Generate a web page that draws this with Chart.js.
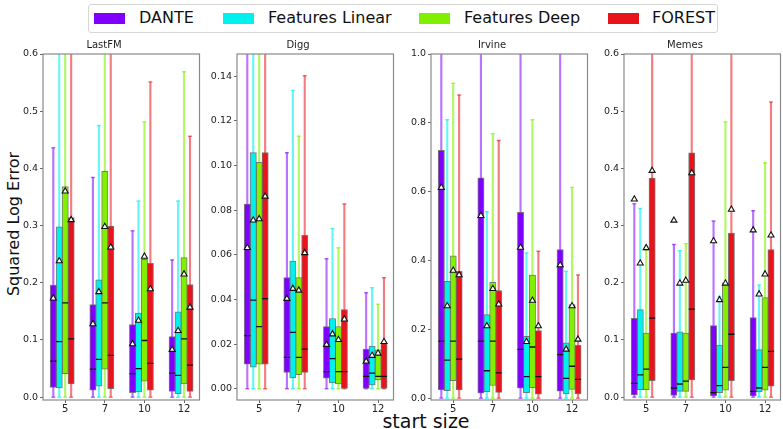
<!DOCTYPE html>
<html>
<head>
<meta charset="utf-8">
<script src="https://cdn.jsdelivr.net/npm/chart.js@4.4.0/dist/chart.umd.min.js"></script>
<style>
  body { margin: 0; width: 783px; height: 429px; overflow: hidden; background: #fff; position: relative;
         font-family: "DejaVu Sans", sans-serif; color: #111; }
  canvas { position: absolute; }
  .legend { position: absolute; left: 88px; top: 4px; width: 630px; height: 29px; box-sizing: border-box;
            border: 1px solid #d6d6d6; border-radius: 3px; }
  .legend .patch { position: absolute; top: 8px; width: 31px; height: 11px; }
  .legend .label { position: absolute; top: 4px; font-size: 16px; line-height: 18px; white-space: nowrap; }
  .ylabel { position: absolute; left: 13px; top: 224px; font-size: 16px; white-space: nowrap;
            transform: translate(-50%, -50%) rotate(-90deg); }
  .xlabel { position: absolute; left: 426px; top: 412px; font-size: 19px; line-height: 19px;
            transform: translateX(-50%); white-space: nowrap; }
</style>
</head>
<body>
<div class="legend" id="legend"></div>
<div class="ylabel">Squared Log Error</div>
<div class="xlabel">start size</div>
<canvas id="c0" width="202" height="386"></canvas>
<canvas id="c1" width="202" height="386"></canvas>
<canvas id="c2" width="202" height="386"></canvas>
<canvas id="c3" width="202" height="386"></canvas>
<script>
const startSizes = ['5', '7', '10', '12'];
const seriesNames = ['DANTE', 'Features Linear', 'Features Deep', 'FOREST'];
const panelTitles = ['LastFM', 'Digg', 'Irvine', 'Memes'];

// each array: [DANTE, Features Linear, Features Deep, FOREST] x start sizes
const lastfmQ1 = [[0.017, 0.012, 0.008, 0.010], [0.016, 0.019, 0.009, 0.006], [0.041, 0.049, 0.028, 0.023], [0.023, 0.015, 0.012, 0.010]];
const lastfmMedian = [[0.063, 0.049, 0.041, 0.042], [0.097, 0.066, 0.050, 0.038], [0.165, 0.165, 0.099, 0.102], [0.102, 0.073, 0.059, 0.056]];
const lastfmQ3 = [[0.196, 0.162, 0.127, 0.106], [0.298, 0.205, 0.147, 0.149], [0.368, 0.395, 0.241, 0.244], [0.314, 0.299, 0.234, 0.197]];
const lastfmMean = [[0.173, 0.128, 0.093, 0.083], [0.238, 0.184, 0.134, 0.116], [0.360, 0.298, 0.246, 0.215], [0.310, 0.262, 0.189, 0.157]];
const lastfmWhiskerHi = [[0.436, 0.384, 0.291, 0.240], [0.80, 0.475, 0.343, 0.343], [0.90, 0.85, 0.481, 0.569], [0.75, 0.70, 0.551, 0.456]];

const diggQ1 = [[0.0111, 0.0074, 0.0048, 0.0], [0.0097, 0.0049, 0.0027, 0.0018], [0.0111, 0.0064, 0.0022, 0.0040], [0.0111, 0.0074, 0.0, 0.0]];
const diggMedian = [[0.0238, 0.0141, 0.0077, 0.0056], [0.0397, 0.0253, 0.0135, 0.0070], [0.0279, 0.0141, 0.0077, 0.0056], [0.0404, 0.0178, 0.0077, 0.0056]];
const diggQ3 = [[0.0828, 0.0498, 0.0279, 0.0178], [0.1058, 0.0572, 0.0315, 0.0192], [0.1015, 0.0498, 0.0279, 0.0175], [0.1058, 0.0688, 0.0355, 0.0204]];
const diggMean = [[0.0632, 0.0404, 0.0198, 0.0123], [0.0755, 0.0449, 0.0245, 0.0149], [0.0761, 0.0441, 0.0220, 0.0159], [0.0862, 0.0609, 0.0312, 0.0211]];
const diggWhiskerHi = [[0.22, 0.1058, 0.0583, 0.0431], [0.26, 0.1337, 0.0718, 0.0453], [0.25, 0.1132, 0.0632, 0.0379], [0.26, 0.1403, 0.0828, 0.0498]];

const irvineQ1 = [[0.024, 0.0145, 0.029, 0.021], [0.022, 0.019, 0.016, 0.0125], [0.051, 0.037, 0.031, 0.026], [0.024, 0.017, 0.012, 0.0125]];
const irvineMedian = [[0.166, 0.166, 0.142, 0.127], [0.111, 0.080, 0.063, 0.058], [0.166, 0.166, 0.149, 0.093], [0.114, 0.074, 0.063, 0.055]];
const irvineQ3 = [[0.720, 0.640, 0.540, 0.432], [0.340, 0.243, 0.180, 0.161], [0.414, 0.337, 0.358, 0.272], [0.369, 0.313, 0.197, 0.154]];
const irvineMean = [[0.612, 0.530, 0.438, 0.387], [0.268, 0.210, 0.164, 0.142], [0.371, 0.318, 0.284, 0.268], [0.358, 0.273, 0.210, 0.171]];
const irvineWhiskerHi = [[1.6, 1.5, 1.3, 1.1], [0.809, 0.542, 0.422, 0.369], [0.915, 0.768, 0.809, 0.612], [0.881, 0.749, 0.427, 0.358]];

const memesQ1 = [[0.004, 0.003, 0.002, 0.002], [0.013, 0.010, 0.008, 0.009], [0.013, 0.010, 0.012, 0.012], [0.029, 0.030, 0.029, 0.019]];
const memesMedian = [[0.024, 0.016, 0.008, 0.010], [0.039, 0.023, 0.020, 0.016], [0.049, 0.028, 0.052, 0.052], [0.138, 0.154, 0.110, 0.080]];
const memesQ3 = [[0.138, 0.112, 0.125, 0.139], [0.153, 0.114, 0.091, 0.083], [0.112, 0.112, 0.200, 0.174], [0.383, 0.427, 0.287, 0.258]];
const memesMean = [[0.346, 0.309, 0.273, 0.292], [0.234, 0.199, 0.170, 0.180], [0.261, 0.204, 0.199, 0.215], [0.396, 0.392, 0.328, 0.283]];
const memesWhiskerHi = [[0.338, 0.267, 0.308, 0.326], [0.330, 0.256, 0.176, 0.196], [0.257, 0.268, 0.481, 0.410], [0.90, 0.85, 0.70, 0.516]];

// lower whiskers all sit at 0
const whiskerLo = [0, 0, 0, 0];

const yTicksLastfm = [0, 0.1, 0.2, 0.3, 0.4, 0.5, 0.6];
const yTicksDigg = [0, 0.02, 0.04, 0.06, 0.08, 0.10, 0.12, 0.14];
const yTicksIrvine = [0, 0.2, 0.4, 0.6, 0.8, 1.0];
const yTicksMemes = [0, 0.1, 0.2, 0.3, 0.4, 0.5, 0.6];

const colors = ['#7f00ff', '#00f0ee', '#80f000', '#e8141c'];
const whiskerColors = ['rgba(127,0,255,0.55)', 'rgba(0,240,238,0.6)', 'rgba(128,240,0,0.6)', 'rgba(232,20,28,0.55)'];
const offsets = [-0.3, -0.15, 0, 0.15];

const panels = [
  { q1: lastfmQ1, med: lastfmMedian, q3: lastfmQ3, mean: lastfmMean, hi: lastfmWhiskerHi, ticks: yTicksLastfm, max: 0.6, dec: 1, left: 43 },
  { q1: diggQ1, med: diggMedian, q3: diggQ3, mean: diggMean, hi: diggWhiskerHi, ticks: yTicksDigg, max: 0.15, dec: 2, left: 237 },
  { q1: irvineQ1, med: irvineMedian, q3: irvineQ3, mean: irvineMean, hi: irvineWhiskerHi, ticks: yTicksIrvine, max: 1.0, dec: 1, left: 431 },
  { q1: memesQ1, med: memesMedian, q3: memesQ3, mean: memesMean, hi: memesWhiskerHi, ticks: yTicksMemes, max: 0.6, dec: 1, left: 624 }
];

// legend
const legend = document.getElementById('legend');
const patchX = [5, 134, 330, 519];
const textX = [50, 179, 375, 563];
seriesNames.forEach((name, i) => {
  const p = document.createElement('div');
  p.className = 'patch';
  p.style.left = patchX[i] + 'px';
  p.style.background = colors[i];
  legend.appendChild(p);
  const t = document.createElement('div');
  t.className = 'label';
  t.style.left = textX[i] + 'px';
  t.textContent = name;
  legend.appendChild(t);
});

const framePlugin = {
  id: 'frame',
  afterDraw(chart) {
    const a = chart.chartArea, ctx = chart.ctx;
    ctx.save();
    ctx.strokeStyle = '#8a8a8a';
    ctx.lineWidth = 1.2;
    ctx.strokeRect(a.left, a.top, a.right - a.left, a.bottom - a.top);
    ctx.restore();
  }
};

function buildDatasets(p) {
  const ds = [];
  seriesNames.forEach((name, s) => {
    const xs = startSizes.map((_, k) => k + 1 + offsets[s]);
    ds.push({
      type: 'bar', label: name + ' whisker', order: 5, grouped: false,
      data: xs.map((x, k) => ({ x: x, y: [whiskerLo[k], p.hi[s][k]] })),
      backgroundColor: whiskerColors[s], barThickness: 1.5, borderWidth: 0
    });
    ds.push({
      type: 'scatter', label: name + ' caps', order: 4,
      data: xs.flatMap((x, k) => [{ x: x, y: whiskerLo[k] }, { x: x, y: p.hi[s][k] }]),
      pointStyle: 'line', pointRadius: 2, borderColor: whiskerColors[s], borderWidth: 1.5
    });
    ds.push({
      type: 'bar', label: name, order: 3, grouped: false,
      data: xs.map((x, k) => ({ x: x, y: [p.q1[s][k], p.q3[s][k]] })),
      backgroundColor: colors[s], borderColor: 'rgba(90,90,90,0.8)', borderWidth: 1,
      borderSkipped: false, barThickness: 6.3
    });
    ds.push({
      type: 'scatter', label: name + ' median', order: 2,
      data: xs.map((x, k) => ({ x: x, y: p.med[s][k] })),
      pointStyle: 'line', pointRadius: 3, borderColor: '#111', borderWidth: 1.3
    });
    ds.push({
      type: 'scatter', label: name + ' mean', order: 1,
      data: xs.map((x, k) => ({ x: x, y: p.mean[s][k] })),
      pointStyle: 'triangle', pointRadius: 3.5, backgroundColor: '#fff', borderColor: '#111', borderWidth: 1.1
    });
  });
  return ds;
}

panels.forEach((p, i) => {
  const canvas = document.getElementById('c' + i);
  canvas.style.left = (p.left - 40) + 'px';
  canvas.style.top = '30px';
  new Chart(canvas.getContext('2d'), {
    type: 'bar',
    data: { datasets: buildDatasets(p) },
    options: {
      responsive: false,
      animation: false,
      events: [],
      layout: { padding: 0 },
      plugins: {
        legend: { display: false },
        tooltip: { enabled: false },
        title: {
          display: true, text: panelTitles[i], color: '#222',
          font: { family: 'DejaVu Sans', size: 10, weight: 'normal' },
          padding: { top: 9, bottom: 3 }
        }
      },
      scales: {
        x: {
          type: 'linear', min: 0.44, max: 4.39, offset: false,
          afterBuildTicks: (sc) => { sc.ticks = startSizes.map((_, k) => ({ value: k + 1 })); },
          afterFit: (sc) => { sc.height = 16; },
          ticks: { color: '#222', font: { family: 'DejaVu Sans', size: 10 }, padding: 0,
                   callback: (v) => startSizes[v - 1] },
          grid: { display: true, offset: false, drawOnChartArea: false, drawTicks: true, tickLength: 3, color: '#666' },
          border: { display: false }
        },
        y: {
          type: 'linear', min: -0.005, max: p.max,
          afterBuildTicks: (sc) => { sc.ticks = p.ticks.map(v => ({ value: v })); },
          afterFit: (sc) => { sc.width = 40; },
          ticks: { color: '#222', font: { family: 'DejaVu Sans', size: 9.5 }, padding: 2,
                   callback: (v) => v.toFixed(p.dec) },
          grid: { display: true, drawOnChartArea: false, drawTicks: true, tickLength: 3, color: '#666' },
          border: { display: false }
        }
      }
    },
    plugins: [framePlugin]
  });
});
</script>
</body>
</html>
